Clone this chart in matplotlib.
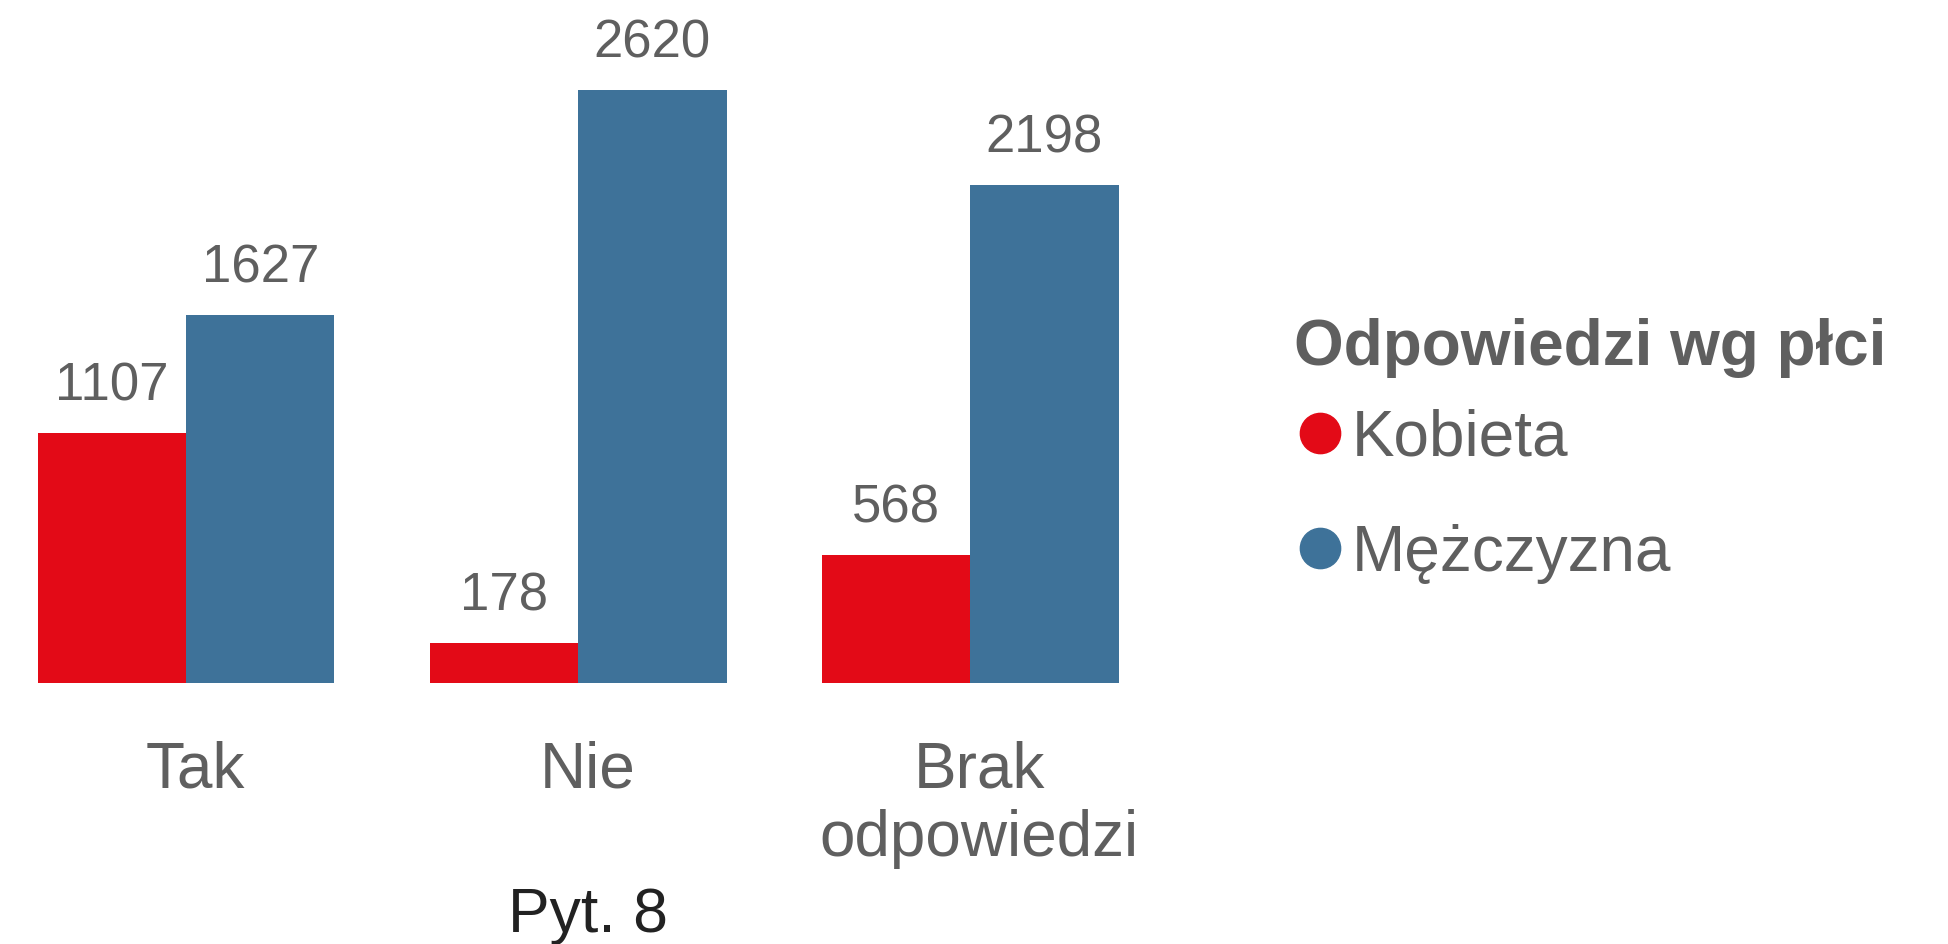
import matplotlib.pyplot as plt
import matplotlib.transforms as mtransforms
from matplotlib.lines import Line2D
import numpy as np

plt.rcParams['font.family'] = ['Liberation Sans', 'DejaVu Sans']

# dane
kategorie = ["Tak", "Nie", "Brak\nodpowiedzi"]
kobieta = [1107, 178, 568]
mezczyzna = [1627, 2620, 2198]
serie = ["Kobieta", "Mężczyzna"]

RED = "#E30A17"
BLUE = "#3E7299"
GRAY = "#5F5F5F"

fig = plt.figure(figsize=(19.48, 9.45), dpi=100)
ax = fig.add_axes([0.00508, 0.2757, 0.5836, 0.6955])

x = np.arange(len(kategorie))
w = 0.378
b1 = ax.bar(x - w / 2, kobieta, width=w, color=RED)
b2 = ax.bar(x + w / 2, mezczyzna, width=w, color=BLUE)

for bars, vals in [(b1, kobieta), (b2, mezczyzna)]:
    for r, v in zip(bars, vals):
        ax.annotate(str(v), (r.get_x() + r.get_width() / 2, v),
                    xytext=(0, 24), textcoords="offset points",
                    ha="center", va="baseline", fontsize=38, color=GRAY)

ax.set_xlim(-0.45, 2.45)
ax.set_ylim(0, 2900)
ax.set_xticks(x, kategorie, fontsize=46, color=GRAY, linespacing=1.2)
ax.tick_params(axis="x", length=0, pad=40)
# etykiety kategorii lekko w prawo, jak w oryginale
shift = mtransforms.ScaledTranslation(0.09, 0, fig.dpi_scale_trans)
for lbl in ax.get_xticklabels():
    lbl.set_transform(lbl.get_transform() + shift)
ax.set_yticks([])
for s in ax.spines.values():
    s.set_visible(False)

# podpis osi
fig.text(588 / 1948, 13 / 945, "Pyt. 8", ha="center", va="baseline",
         fontsize=45, color="#222222")

# legenda
fig.text(1294 / 1948, (945 - 365) / 945, "Odpowiedzi wg płci", ha="left",
         va="baseline", fontsize=46, fontweight="bold", color=GRAY)
handles = [Line2D([], [], marker="o", linestyle="none", markersize=29, color=c)
           for c in [RED, BLUE]]
leg = fig.legend(handles, serie, loc="upper left",
                 bbox_to_anchor=(1299 / 1948, (945 - 409) / 945),
                 frameon=False, fontsize=46, labelcolor=GRAY,
                 borderpad=0, borderaxespad=0, handlelength=0.65,
                 handletextpad=0.18, labelspacing=0.86)

fig.savefig("out.png", dpi=100)
